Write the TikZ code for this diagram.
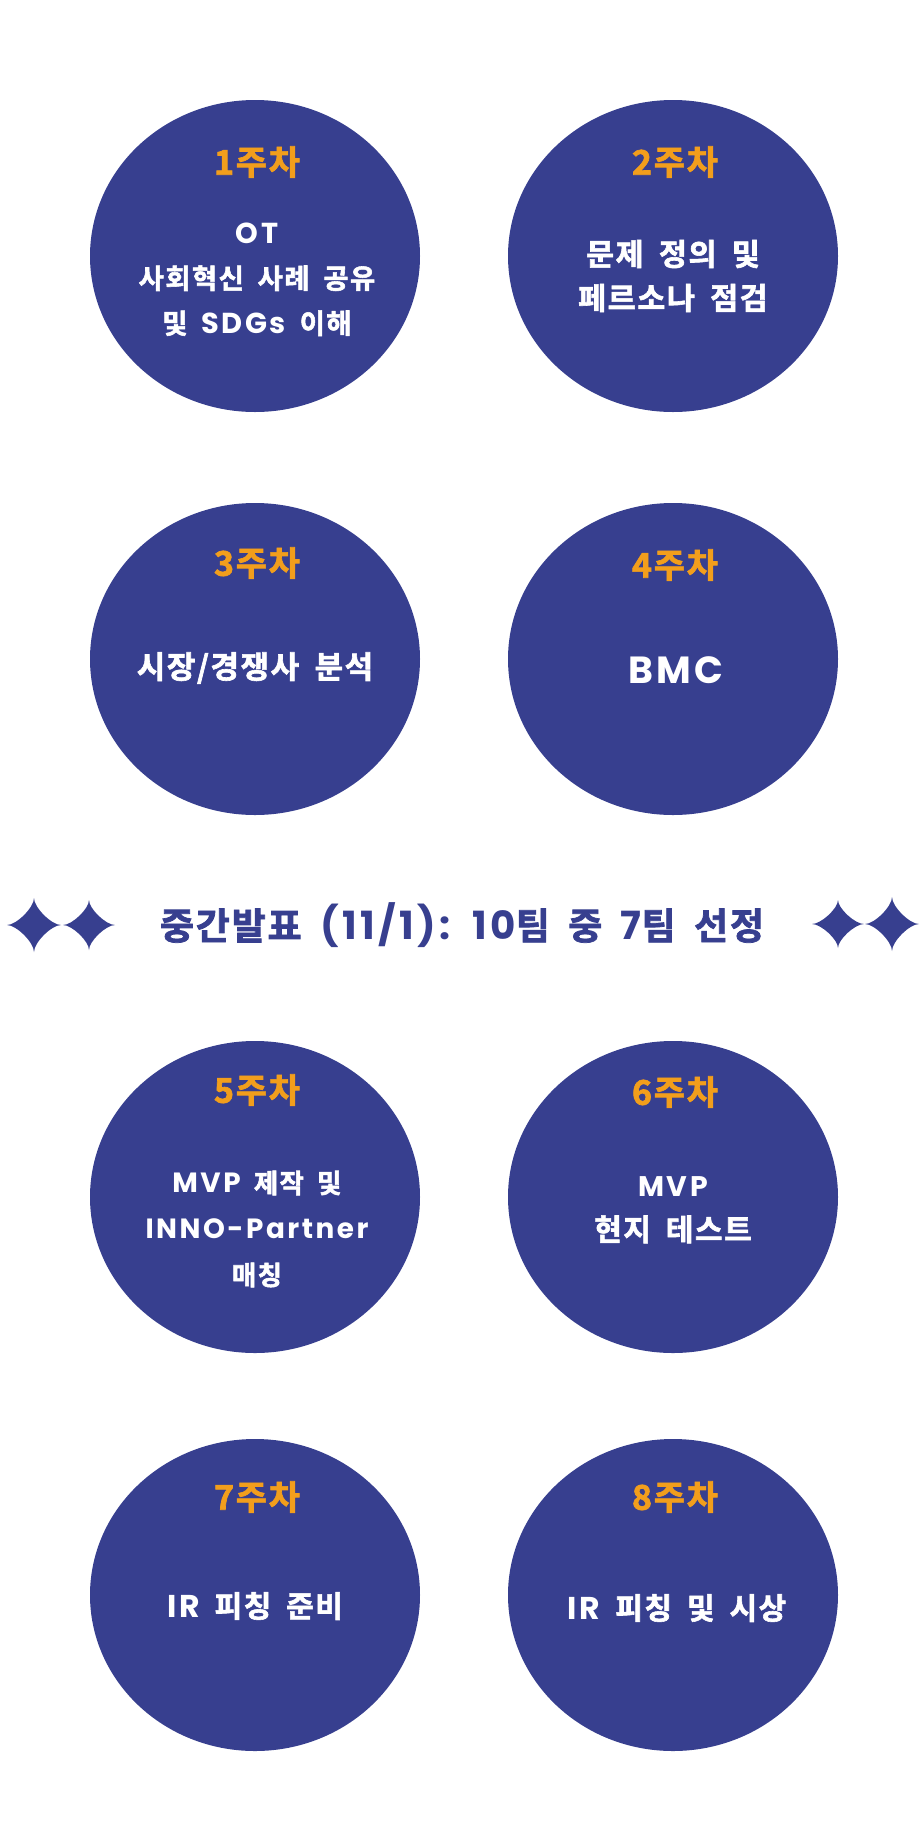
\documentclass[tikz,border=0pt]{standalone}
\usepackage{fontspec}
\setmainfont{Noto Sans CJK KR}[BoldFont={Noto Sans CJK KR Bold},BoldFeatures={FakeBold=2},LetterSpace=5,WordSpace=1.8]
\newfontfamily\latfont{Poppins}[LetterSpace=9,Scale=1.05]
\newcommand{\lat}[1]{{\latfont #1}}
\usepackage{tikz}
\definecolor{wknavy}{RGB}{55,63,143}
\definecolor{wkorange}{RGB}{242,158,28}
\tikzset{
  wkcircle/.style={draw=none,fill=wknavy},
  wklabel/.style={text=wkorange,inner sep=0pt,font=\bfseries\fontsize{34}{34}\selectfont},
  wkbody/.style={text=white,align=center,inner sep=0pt},
  spark/.style={draw=none,fill=wknavy}
}

\begin{document}
\begin{tikzpicture}[x=1pt,y=1pt,yscale=-1,xscale=1]
\useasboundingbox (0,0) rectangle (922,1837);

%Shape: Ellipse [week 1]
\draw [wkcircle] (255,256) ellipse (165 and 156);
%Shape: Ellipse [week 2]
\draw [wkcircle] (673,256) ellipse (165 and 156);
%Shape: Ellipse [week 3]
\draw [wkcircle] (255,659) ellipse (165 and 156);
%Shape: Ellipse [week 4]
\draw [wkcircle] (673,659) ellipse (165 and 156);
%Shape: Ellipse [week 5]
\draw [wkcircle] (255,1197) ellipse (165 and 156);
%Shape: Ellipse [week 6]
\draw [wkcircle] (673,1197) ellipse (165 and 156);
%Shape: Ellipse [week 7]
\draw [wkcircle] (255,1595) ellipse (165 and 156);
%Shape: Ellipse [week 8]
\draw [wkcircle] (673,1595) ellipse (165 and 156);

%Shape: Star [left outer]
\fill [spark] (34,898) .. controls (34,907.45) and (51.55,925) .. (61,925) .. controls (51.55,925) and (34,942.55) .. (34,952) .. controls (34,942.55) and (16.45,925) .. (7,925) .. controls (16.45,925) and (34,907.45) .. (34,898) -- cycle ;
%Shape: Star [left inner]
\fill [spark] (89,900) .. controls (89,908.75) and (105.9,925) .. (115,925) .. controls (105.9,925) and (89,941.25) .. (89,950) .. controls (89,941.25) and (72.1,925) .. (63,925) .. controls (72.1,925) and (89,908.75) .. (89,900) -- cycle ;
%Shape: Star [right inner]
\fill [spark] (838,900) .. controls (838,908.4) and (854.9,924) .. (864,924) .. controls (854.9,924) and (838,939.6) .. (838,948) .. controls (838,939.6) and (821.1,924) .. (812,924) .. controls (821.1,924) and (838,908.4) .. (838,900) -- cycle ;
%Shape: Star [right outer]
\fill [spark] (892,897) .. controls (892,906.45) and (909.55,924) .. (919,924) .. controls (909.55,924) and (892,941.55) .. (892,951) .. controls (892,941.55) and (874.45,924) .. (865,924) .. controls (874.45,924) and (892,906.45) .. (892,897) -- cycle ;

% Text Node
\draw (257,162) node (wk1) [wklabel] {1주차};
% Text Node
\draw (675,162) node (wk2) [wklabel] {2주차};
% Text Node
\draw (257,563) node (wk3) [wklabel] {3주차};
% Text Node
\draw (675,565) node (wk4) [wklabel] {4주차};
% Text Node
\draw (257,1090) node (wk5) [wklabel] {5주차};
% Text Node
\draw (675,1092) node (wk6) [wklabel] {6주차};
% Text Node
\draw (257,1497) node (wk7) [wklabel] {7주차};
% Text Node
\draw (675,1497) node (wk8) [wklabel] {8주차};

% Text Node
\draw (257,279.5) node (body1) [wkbody,font=\bfseries\fontsize{27.5}{45}\selectfont] {\lat{OT}\\사회혁신 사례 공유\\및 \lat{SDGs} 이해};
% Text Node
\draw (673,276) node (body2) [wkbody,font=\bfseries\fontsize{30.5}{44}\selectfont] {문제 정의 및\\페르소나 점검};
% Text Node
\draw (255,668) node (body3) [wkbody,font=\bfseries\fontsize{31}{44}\selectfont] {시장/경쟁사 분석};
% Text Node
\draw (676,670) node (body4) [wkbody,font=\bfseries\fontsize{36}{44}\selectfont] {\lat{BMC}};
% Text Node
\draw (257,1229) node (body5) [wkbody,font=\bfseries\fontsize{26.5}{46}\selectfont] {\lat{MVP} 제작 및\\\lat{INNO-Partner}\\매칭};
% Text Node
\draw (673,1210) node (body6) [wkbody,font=\bfseries\fontsize{30}{44}\selectfont] {{\fontsize{27}{44}\selectfont\lat{MVP}}\\현지 테스트};
% Text Node
\draw (255,1606) node (body7) [wkbody,font=\bfseries\fontsize{30}{44}\selectfont] {\lat{IR} 피칭 준비};
% Text Node
\draw (677,1608) node (body8) [wkbody,font=\bfseries\fontsize{30}{44}\selectfont] {\lat{IR} 피칭 및 시상};

% Text Node
\draw (462,925) node (midnote) [text=wknavy,inner sep=0pt,font=\bfseries\fontsize{37}{37}\selectfont] {중간발표 \lat{(11/1):} \lat{10}팀 중 \lat{7}팀 선정};

\end{tikzpicture}
\end{document}
